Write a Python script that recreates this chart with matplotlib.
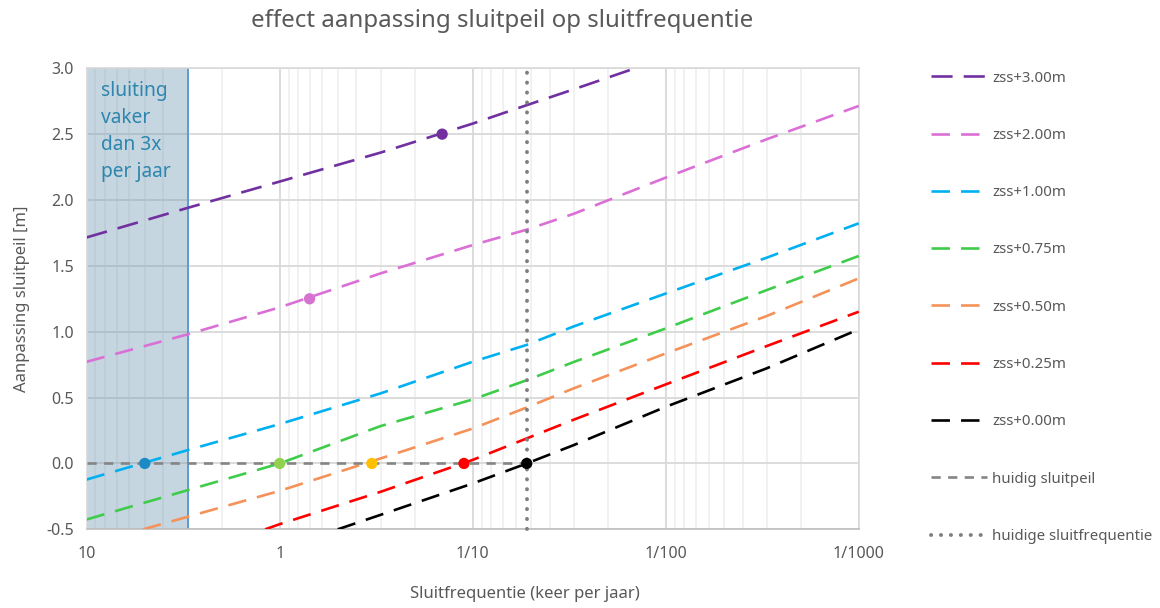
import numpy as np
import matplotlib
matplotlib.use("Agg")
import matplotlib.pyplot as plt
from matplotlib.ticker import FixedLocator, NullFormatter

plt.rcParams['font.family'] = ['Noto Sans', 'DejaVu Sans']

# ---------------- data ----------------
series_labels = ["zss+3.00m", "zss+2.00m", "zss+1.00m", "zss+0.75m",
                 "zss+0.50m", "zss+0.25m", "zss+0.00m"]
series_colors = ["#7030A0", "#DA70D6", "#00B0F0", "#3FCC4A",
                 "#F4925A", "#FF0000", "#000000"]

freq_3_00 = [10, 3, 1, 0.3, 0.1, 0.0525, 0.03, 0.01]
level_3_00 = [1.716, 1.94, 2.14, 2.36, 2.58, 2.72, 2.84, 3.08]

freq_2_00 = [10, 3, 1, 0.3, 0.1, 0.0525, 0.03, 0.01, 0.003, 0.001]
level_2_00 = [0.772, 0.98, 1.185, 1.443, 1.658, 1.775, 1.895, 2.17, 2.461, 2.714]

freq_1_00 = [10, 3, 1, 0.3, 0.1, 0.0525, 0.03, 0.01, 0.003, 0.001]
level_1_00 = [-0.122, 0.101, 0.299, 0.532, 0.772, 0.90, 1.04, 1.29, 1.562, 1.823]

freq_0_75 = [10, 3, 1, 0.3, 0.1, 0.0525, 0.03, 0.01, 0.003, 0.001]
level_0_75 = [-0.425, -0.203, 0.0, 0.284, 0.486, 0.632, 0.77, 1.025, 1.316, 1.575]

freq_0_50 = [5.1, 3, 1, 0.3, 0.1, 0.0525, 0.03, 0.01, 0.003, 0.001]
level_0_50 = [-0.5, -0.405, -0.208, 0.038, 0.265, 0.425, 0.57, 0.835, 1.119, 1.405]

freq_0_25 = [1.19, 1, 0.3, 0.1, 0.0525, 0.03, 0.01, 0.003, 0.001]
level_0_25 = [-0.5, -0.461, -0.215, 0.027, 0.19, 0.332, 0.60, 0.891, 1.152]

freq_0_00 = [0.5, 0.3, 0.1, 0.0525, 0.03, 0.01, 0.003, 0.001]
level_0_00 = [-0.5, -0.39, -0.152, 0.0, 0.139, 0.43, 0.722, 1.018]

series_freqs = [freq_3_00, freq_2_00, freq_1_00, freq_0_75, freq_0_50, freq_0_25, freq_0_00]
series_levels = [level_3_00, level_2_00, level_1_00, level_0_75, level_0_50, level_0_25, level_0_00]

# highlighted points
point_freq = [5.0, 1.0, 0.333, 0.111, 0.0525, 0.7, 0.144]
point_level = [0.0, 0.0, 0.0, 0.0, 0.0, 1.25, 2.5]
point_colors = ["#1C8AC4", "#92D050", "#FFC000", "#FF0000", "#000000", "#D672D0", "#7030A0"]

current_level = 0.0            # huidig sluitpeil
current_freq = 0.0525          # huidige sluitfrequentie
shade_from, shade_to = 10, 3   # sluiting vaker dan 3x per jaar

x_ticks = [10, 1, 0.1, 0.01, 0.001]
x_ticklabels = ["10", "1", "1/10", "1/100", "1/1000"]
y_ticks = [-0.5, 0.0, 0.5, 1.0, 1.5, 2.0, 2.5, 3.0]

# ---------------- figure ----------------
fig = plt.figure(figsize=(11.6, 6.08), dpi=100)
ax = fig.add_axes([0.0747, 0.1294, 0.6656, 0.7583])

ax.set_xscale('log')
ax.set_xlim(10, 0.001)
ax.set_ylim(-0.5, 3.0)

# grid
ax.xaxis.set_major_locator(FixedLocator(x_ticks))
minor = [m * 10.0 ** e for e in range(-3, 1) for m in range(2, 10)]
ax.xaxis.set_minor_locator(FixedLocator(minor))
ax.xaxis.set_minor_formatter(NullFormatter())
ax.set_xticklabels(x_ticklabels)
ax.set_yticks(y_ticks)
ax.set_yticklabels([f"{v:.1f}" for v in y_ticks])
ax.grid(which='major', axis='both', color='#D9D9D9', lw=1.3, zorder=0)
ax.grid(which='minor', axis='x', color='#EEEEEE', lw=1.1, zorder=0)
ax.set_axisbelow(True)
for s in ax.spines.values():
    s.set_color('#D9D9D9')
    s.set_linewidth(1.2)
ax.spines['bottom'].set_color('#BFBFBF')
ax.tick_params(axis='both', which='both', length=0, labelsize=11.5,
               labelcolor='#595959')
ax.tick_params(axis='x', pad=12)
ax.tick_params(axis='y', pad=9)

# shaded region
ax.axvspan(shade_from, shade_to, color='#6F9AB3', alpha=0.40, lw=0, zorder=1)
ax.axvline(shade_to, color='#5B9BD5', lw=1.4, zorder=1.5)
ax.text(0.019, 0.972, "sluiting\nvaker\ndan 3x\nper jaar", transform=ax.transAxes,
        ha='left', va='top', fontsize=13.8, color='#2E86AE', linespacing=1.47, zorder=2)

# series
for f, v, lab, col in zip(series_freqs, series_levels, series_labels, series_colors):
    dash = (8, 4.2) if lab == "zss+3.00m" else (7, 4.2)
    ax.plot(f, v, color=col, lw=1.9, dashes=dash, label=lab, zorder=3)

# current closing level
ax.plot([shade_from, current_freq], [current_level, current_level], color='#858585',
        lw=1.9, dashes=(3.5, 2.8), label='huidig sluitpeil', zorder=3.5)
ax.plot([current_freq, current_freq], [-0.5, 3.0], color='#7F7F7F', lw=2.8,
        linestyle=(0, (0.05, 2.5)), dash_capstyle='round',
        label='huidige sluitfrequentie', zorder=3.5, clip_on=False)

ax.scatter(point_freq, point_level, s=66, c=point_colors, zorder=5, linewidths=0)

# texts
fig.text(0.433, 0.965, "effect aanpassing sluitpeil op sluitfrequentie",
         ha='center', va='center', fontsize=17.3, color='#595959')
ax.set_xlabel("Sluitfrequentie (keer per jaar)", fontsize=12, color='#595959')
ax.xaxis.set_label_coords(0.568, -0.124)
ax.set_ylabel("Aanpassing sluitpeil [m]", fontsize=12, color='#595959', labelpad=12)

leg = fig.legend(loc='upper left', bbox_to_anchor=(0.803, 0.884), frameon=False,
                 fontsize=10.8, labelspacing=2.82, handlelength=3.7,
                 handletextpad=0.35, borderpad=0, borderaxespad=0)
for t in leg.get_texts():
    t.set_color('#595959')

fig.savefig("out.png", dpi=100)
